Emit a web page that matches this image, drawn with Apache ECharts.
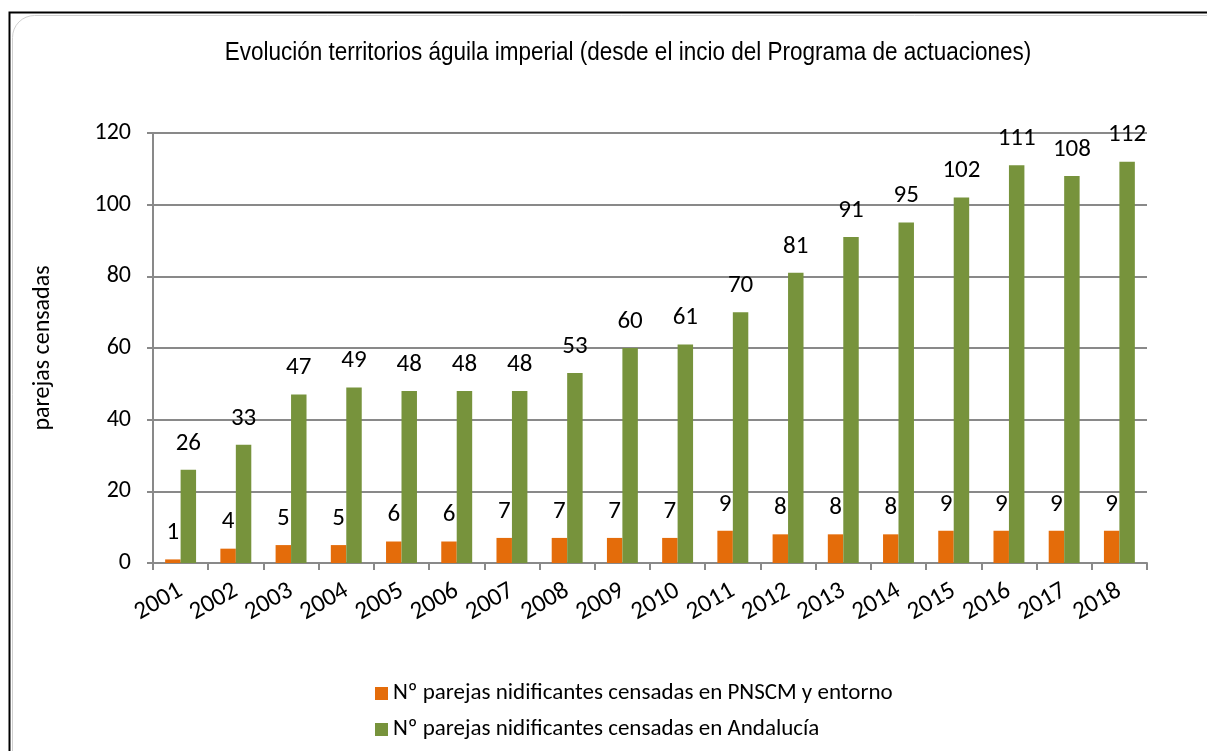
<!DOCTYPE html>
<html>
<head>
<meta charset="utf-8">
<script src="https://cdn.jsdelivr.net/npm/echarts@6/dist/echarts.min.js"></script>
<style>html,body{margin:0;padding:0;background:#fff}#c{width:1207px;height:751px}</style>
</head>
<body>
<div id="c"></div>
<script>
const categories = ['2001','2002','2003','2004','2005','2006','2007','2008','2009','2010','2011','2012','2013','2014','2015','2016','2017','2018'];
const seriesPNSCM = [1,4,5,5,6,6,7,7,7,7,9,8,8,8,9,9,9,9];
const seriesAndalucia = [26,33,47,49,48,48,48,53,60,61,70,81,91,95,102,111,108,112];
const yTicks = [0,20,40,60,80,100,120];
const seriesNames = ['Nº parejas nidificantes censadas en PNSCM y entorno','Nº parejas nidificantes censadas en Andalucía'];
const titleText = 'Evolución territorios águila imperial (desde el incio del Programa de actuaciones)';
const yName = 'parejas censadas';

const font = "Carlito, 'Open Sans', 'Liberation Sans', sans-serif";
const chart = echarts.init(document.getElementById('c'), null, {renderer:'canvas'});
chart.setOption({
  animation:false,
  backgroundColor:'#fff',
  graphic:[
    {type:'rect', shape:{x:9.5,y:12.5,width:1300,height:800}, style:{fill:'none',stroke:'#000',lineWidth:2}, z:-1},
    {type:'rect', shape:{x:12.5,y:15.5,width:1300,height:800,r:22}, style:{fill:'none',stroke:'#d0d0d0',lineWidth:1}, z:-1},
    {type:'text', x:628, y:53, scaleX:0.9, scaleY:1,
      style:{text:titleText, fontFamily:"'Liberation Sans', Arial, sans-serif", fontSize:25, fill:'#000', textAlign:'center', textVerticalAlign:'middle'}}
  ],
  grid:{left:153,right:60,top:133,bottom:188,containLabel:false},
  legend:{orient:'vertical',left:370,top:677,itemWidth:13,itemHeight:13,itemGap:13,icon:'rect',
    textStyle:{fontFamily:font,fontSize:23,color:'#000'},data:seriesNames},
  xAxis:{type:'category',data:categories,
    axisLine:{lineStyle:{color:'#898989',width:2}},
    axisTick:{show:true,length:7,lineStyle:{color:'#898989',width:2}},
    axisLabel:{interval:0,rotate:30,fontFamily:font,fontSize:25,color:'#000',margin:26}},
  yAxis:{type:'value',min:0,max:120,interval:20,
    name:yName,nameLocation:'middle',nameGap:98,nameRotate:90,
    nameTextStyle:{fontFamily:font,fontSize:24,color:'#000'},
    axisLine:{show:true,lineStyle:{color:'#898989',width:2}},
    axisTick:{show:true,length:6,lineStyle:{color:'#898989',width:2}},
    splitLine:{lineStyle:{color:'#898989',width:2}},
    axisLabel:{fontFamily:font,fontSize:24,color:'#000',margin:22}},
  series:[
    {name:seriesNames[0],type:'bar',data:seriesPNSCM,barGap:'0%',barCategoryGap:'44%',
      itemStyle:{color:'#E46C0A'},
      label:{show:true,position:'top',distance:14,fontFamily:font,fontSize:25,color:'#000'}},
    {name:seriesNames[1],type:'bar',data:seriesAndalucia,
      itemStyle:{color:'#77933C'},
      label:{show:true,position:'top',distance:14,fontFamily:font,fontSize:25,color:'#000'}}
  ]
});
</script>
</body>
</html>
